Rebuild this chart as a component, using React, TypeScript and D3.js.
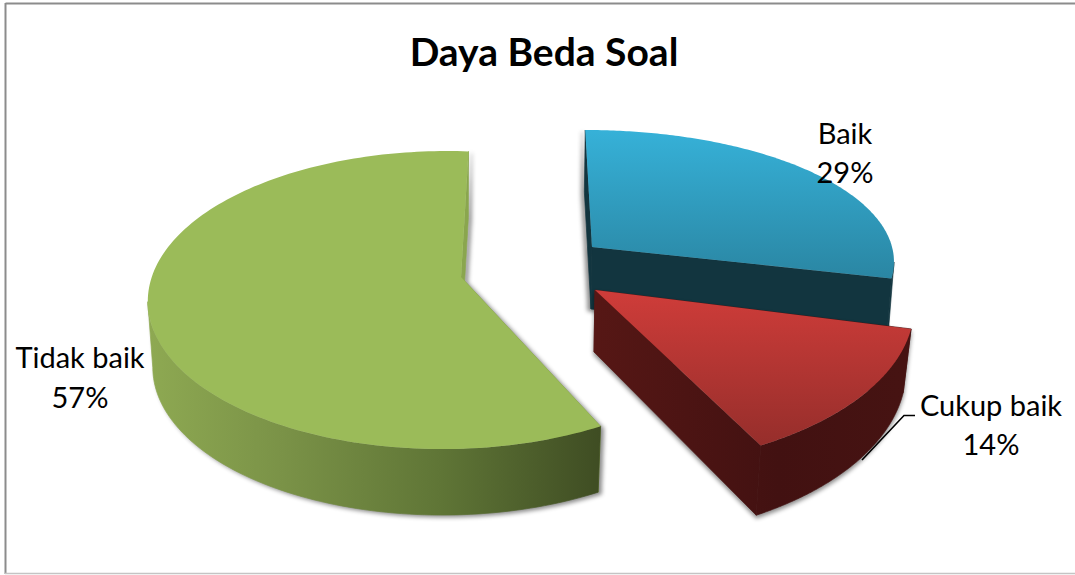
import React from "react";
import * as d3 from "d3";

const categories = ["Baik", "Cukup baik", "Tidak baik"];
const percents = [29, 14, 57];
const title = "Daya Beda Soal";

const W = 1075;
const H = 575;
const FONT = "Lato, 'Open Sans', sans-serif";
const START = (-0.5 * Math.PI) / 180;
const DEG = Math.PI / 180;

type Face = { x: number; y: number; ox: number; oy: number; rx: number; ry: number };
type Look = {
  top: Face; bottom: Face; topFill: string; wallFill: string; sideFill: string;
  shadow: [number, number]; turn: [number, number];
};

const looks: Look[] = [
  {
    top: { x: 592, y: 247, ox: -7, oy: 15, rx: 309, ry: 132 },
    bottom: { x: 591, y: 309, ox: -7, oy: 15, rx: 305, ry: 132 },
    topFill: "url(#topBlue)", wallFill: "#12353f", sideFill: "#12353f", shadow: [-3, 2], turn: [-0.9, 0],
  },
  {
    top: { x: 595, y: 290, ox: 0, oy: 17, rx: 319, ry: 162 },
    bottom: { x: 594, y: 352, ox: 0, oy: 18, rx: 312, ry: 170 },
    topFill: "url(#topRed)", wallFill: "url(#wallRed)", sideFill: "url(#wallRed)", shadow: [0, 3], turn: [-0.2, -2.6],
  },
  {
    top: { x: 461, y: 277, ox: -16, oy: 23, rx: 297, ry: 149 },
    bottom: { x: 461, y: 343, ox: -16, oy: 23, rx: 292, ry: 149 },
    topFill: "#9bbb59", wallFill: "url(#wallGreen)", sideFill: "#8aa64e", shadow: [3, 2], turn: [0.8, 2.2],
  },
];

const labelPlaces = [
  { x: 845, y: [144, 183] },
  { x: 991, y: [416, 455] },
  { x: 80, y: [368, 408] },
];

function project(f: Face, theta: number): [number, number] {
  const m = -f.ox / f.rx;
  const k = f.oy / f.ry;
  const b = f.rx * (1 - m * m) * Math.sqrt(1 - k * k);
  const a = f.ry * (1 - k * k) * Math.sqrt(1 - m * m);
  const X = Math.sin(theta);
  const Y = Math.cos(theta);
  const w = 1 + m * X + k * Y;
  return [f.x + (b * X) / w, f.y - (a * Y) / w];
}

const pie = d3
  .pie<number>()
  .sort(null)
  .value((d) => d)
  .startAngle(START)
  .endAngle(START + 2 * Math.PI);

const lineGen = d3.line<[number, number]>();

function angleSteps(a0: number, a1: number) {
  const n = 160;
  const t = d3.scaleLinear().domain([0, n]).range([a0, a1]);
  return d3.range(n + 1).map((i) => t(i));
}

export default function App() {
  const arcs = pie(percents);
  const order = [2, 0, 1];
  return (
    <svg
      width={W}
      height={H}
      viewBox={`0 0 ${W} ${H}`}
      style={{ position: "absolute", left: 0, top: 0, display: "block", background: "#fff" }}
    >
      <defs>
        <linearGradient id="topBlue" gradientUnits="userSpaceOnUse" x1="0" y1="130" x2="0" y2="278">
          <stop offset="0" stopColor="#36b1d8" />
          <stop offset="1" stopColor="#2a86a3" />
        </linearGradient>
        <linearGradient id="topRed" gradientUnits="userSpaceOnUse" x1="0" y1="295" x2="0" y2="445">
          <stop offset="0" stopColor="#cd3c39" />
          <stop offset="1" stopColor="#962e2b" />
        </linearGradient>
        <linearGradient id="wallRed" gradientUnits="userSpaceOnUse" x1="595" y1="0" x2="900" y2="0">
          <stop offset="0" stopColor="#561715" />
          <stop offset="0.6" stopColor="#421111" />
          <stop offset="1" stopColor="#461312" />
        </linearGradient>
        <linearGradient id="wallGreen" gradientUnits="userSpaceOnUse" x1="148" y1="0" x2="600" y2="0">
          <stop offset="0" stopColor="#8ea952" />
          <stop offset="0.3" stopColor="#7a9247" />
          <stop offset="0.65" stopColor="#5f7536" />
          <stop offset="1" stopColor="#3f4d23" />
        </linearGradient>
        {looks.map((l, i) => (
          <filter key={i} id={`shade${i}`} x="-10%" y="-10%" width="120%" height="120%" colorInterpolationFilters="sRGB">
            <feDropShadow dx={l.shadow[0]} dy={l.shadow[1]} stdDeviation={2} floodColor="#000" floodOpacity={0.45} />
          </filter>
        ))}
      </defs>

      <line x1={5.5} y1={3.5} x2={W} y2={3.5} stroke="#8c8c8c" strokeWidth={2} />
      <line x1={5.5} y1={3} x2={5.5} y2={574} stroke="#8c8c8c" strokeWidth={2} />
      <line x1={5} y1={573.5} x2={W} y2={573.5} stroke="#c4c4c4" strokeWidth={1.5} />

      {order.map((i) => {
        const l = looks[i];
        const a = arcs[i];
        const a0 = a.startAngle + l.turn[0] * DEG;
        const a1 = a.endAngle + l.turn[1] * DEG;
        const steps = angleSteps(a0, a1);
        const topArc = steps.map((t) => project(l.top, t));
        const botArc = steps.map((t) => project(l.bottom, t));
        const front = steps.filter((t) => Math.cos(t) < -l.top.oy / l.top.ry);
        const wallPath =
          lineGen([
            ...front.map((t) => project(l.top, t)),
            ...front.slice().reverse().map((t) => project(l.bottom, t)),
          ]) + "Z";
        const topPath = lineGen([[l.top.x, l.top.y], ...topArc]) + "Z";
        const sideA = lineGen([[l.top.x, l.top.y], topArc[0], botArc[0], [l.bottom.x, l.bottom.y]]) + "Z";
        const sideB =
          lineGen([[l.top.x, l.top.y], topArc[topArc.length - 1], botArc[botArc.length - 1], [l.bottom.x, l.bottom.y]]) + "Z";
        return (
          <g key={categories[i]}>
            <g filter={`url(#shade${i})`}>
              <path d={sideA} fill={l.sideFill} stroke={l.sideFill} strokeWidth={0.7} />
              <path d={sideB} fill={l.sideFill} stroke={l.sideFill} strokeWidth={0.7} />
              <path d={wallPath} fill={l.wallFill} stroke={l.wallFill} strokeWidth={0.7} />
            </g>
            <path d={topPath} fill={l.topFill} />
          </g>
        );
      })}

      <polyline points="862,460 904,415.5 915,415.5" fill="none" stroke="#000" strokeWidth={1.6} />

      <text x={544} y={66} textAnchor="middle" fontFamily={FONT} fontWeight={700} fontSize={39} fill="#000">
        {title}
      </text>
      {categories.map((c, i) => (
        <g key={c} fontFamily={FONT} fontSize={29} fill="#000" textAnchor="middle">
          <text x={labelPlaces[i].x} y={labelPlaces[i].y[0]}>{c}</text>
          <text x={labelPlaces[i].x} y={labelPlaces[i].y[1]}>{percents[i]}%</text>
        </g>
      ))}
    </svg>
  );
}
